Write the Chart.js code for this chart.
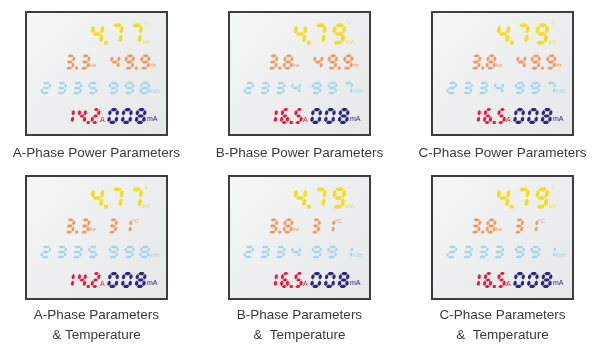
<!DOCTYPE html>
<html><head><meta charset="utf-8">
<script src="https://cdn.jsdelivr.net/npm/chart.js@4/dist/chart.umd.min.js"></script>
<style>html,body{margin:0;padding:0;background:#fff}canvas{display:block}</style>
</head><body>
<canvas id="c" width="603" height="345"></canvas>
<script>
// ---- data ----
const phases = ['A', 'B', 'C'];
const topLabels = ['A-Phase Power Parameters', 'B-Phase Power Parameters', 'C-Phase Power Parameters'];
const bottomLabels = [['A-Phase Parameters', '& Temperature'], ['B-Phase Parameters', '&  Temperature'], ['C-Phase Parameters', '&  Temperature']];
const voltage = ['4.77', '4.79', '4.79'];
const power = ['3.3', '3.8', '3.8'];
const frequency = ['49.9', '49.9', '49.9'];
const temperature = ['31', '31', '31'];
const energyIntTop = ['2335', '2334', '2334'];
const energyFracTop = ['998', '997', '997'];
const energyIntBottom = ['2335', '2334', '2333'];
const energyFracBottom = ['998', '991', '991'];
const current = ['14.2', '16.5', '16.5'];
const leakage = ['008', '008', '008'];
const panelRows = [0, 1]; // 0 = power parameters, 1 = parameters & temperature

// ---- styles ----
const COL = {yellow:'#f3dc22', orange:'#ef9860', blue:'#a2d6ee', red:'#e21d3d', navy:'#28287e', border:'#3d3d3d', label:'#3a3a3a'};
const PW = 141, PH = 123;

const SEGS = {'0':'abcdef','1':'bc','2':'abged','3':'abgcd','4':'fgbc','5':'afgcd','6':'afgedc','7':'abc','8':'abcdefg','9':'abcdfg'};

function drawDigits(ctx, str, right, cy, h, color, o) {
  const w = h * o.w, g = h * o.g, d = h * (o.d || 0.32), t = o.t, sl = 0.12;
  const items = [];
  for (const ch of str) items.push({ch, width: ch === '.' ? d : w});
  const gapAfter = i => (i < items.length - 1 && items[i].ch !== '.' && items[i + 1].ch !== '.') ? g : 0;
  let total = 0;
  items.forEach((it, i) => { total += it.width + gapAfter(i); });
  let x = right - total;
  const top = cy - h / 2;
  ctx.save();
  ctx.fillStyle = color;
  const P = (px, py) => [x + px + (h - py) * sl, top + py];
  const poly = pts => {
    ctx.beginPath();
    pts.forEach((p, k) => { const q = P(p[0], p[1]); if (k) ctx.lineTo(q[0], q[1]); else ctx.moveTo(q[0], q[1]); });
    ctx.closePath(); ctx.fill();
  };
  const hs = (xa, xb, y) => poly([[xa, y], [xa + t / 2, y - t / 2], [xb - t / 2, y - t / 2], [xb, y], [xb - t / 2, y + t / 2], [xa + t / 2, y + t / 2]]);
  const vs = (x0, ya, yb) => poly([[x0, ya], [x0 + t / 2, ya + t / 2], [x0 + t / 2, yb - t / 2], [x0, yb], [x0 - t / 2, yb - t / 2], [x0 - t / 2, ya + t / 2]]);
  items.forEach((it, i) => {
    if (it.ch === '.') {
      const [qx, qy] = P(d * 0.2, h - t);
      ctx.fillRect(qx, qy, t, t);
    } else if (SEGS[it.ch]) {
      const x0 = t / 2, x1 = w - t / 2, y0 = t / 2, y1 = h - t / 2, ym = h / 2, e = 0.5;
      const segs = {
        a: () => hs(x0 + e, x1 - e, y0),
        b: () => vs(x1, y0 + e, ym - e),
        c: () => vs(x1, ym + e, y1 - e),
        d: () => hs(x0 + e, x1 - e, y1),
        e: () => vs(x0, ym + e, y1 - e),
        f: () => vs(x0, y0 + e, ym - e),
        g: () => hs(x0 + e, x1 - e, ym)
      };
      for (const s of SEGS[it.ch]) segs[s]();
    }
    x += it.width + gapAfter(i);
  });
  ctx.restore();
}

function unit(ctx, txt, x, y, size, color) {
  ctx.save();
  ctx.font = size + 'px "Liberation Sans", Arial, sans-serif';
  ctx.fillStyle = color; ctx.textAlign = 'left'; ctx.textBaseline = 'middle';
  ctx.fillText(txt, x, y);
  ctx.restore();
}

const panelPlugin = {
  id: 'panels',
  afterDatasetsDraw(chart) {
    const ctx = chart.ctx;
    const meta = chart.getDatasetMeta(0);
    meta.data.forEach((el, idx) => {
      const raw = chart.data.datasets[0].data[idx];
      const i = raw.phase, row = raw.row;
      const cx = el.x, cy = el.y - 9;
      const L = Math.round(cx - PW / 2), T = Math.round(cy - PH / 2);
      // panel
      ctx.save();
      const gr = ctx.createLinearGradient(L, T, L + PW, T + PH);
      gr.addColorStop(0, '#f5f6f6'); gr.addColorStop(1, '#e5e7e8');
      ctx.fillStyle = gr; ctx.fillRect(L, T, PW, PH);
      ctx.strokeStyle = COL.border; ctx.lineWidth = 2; ctx.strokeRect(L, T, PW, PH);
      ctx.restore();
      // row 1: voltage
      drawDigits(ctx, voltage[i], L + 115, T + 22, 21, COL.yellow, {w: 0.62, g: 0.3, t: 3.7, d: 0.3});
      unit(ctx, 'kV', L + 117, T + 30, 6, COL.yellow);
      unit(ctx, '°', L + 119, T + 14, 7, COL.yellow);
      // row 2
      drawDigits(ctx, power[i], L + 63, T + 50, 15, COL.orange, {w: 0.65, g: 0.3, t: 2.8, d: 0.36});
      unit(ctx, 'kw', L + 64, T + 54, 5, COL.orange);
      if (row === 0) {
        drawDigits(ctx, frequency[i], L + 123, T + 50, 15, COL.orange, {w: 0.66, g: 0.3, t: 2.8, d: 0.38});
        unit(ctx, 'Hz', L + 124, T + 54, 5, COL.orange);
      } else {
        drawDigits(ctx, temperature[i], L + 105, T + 50, 15, COL.orange, {w: 0.62, g: 0.35, t: 2.8});
        unit(ctx, '°C', L + 106, T + 45, 6, COL.orange);
      }
      // row 3: energy
      const ei = row === 0 ? energyIntTop[i] : energyIntBottom[i];
      const ef = row === 0 ? energyFracTop[i] : energyFracBottom[i];
      drawDigits(ctx, ei, L + 71, T + 76, 12.5, COL.blue, {w: 0.8, g: 0.45, t: 2.4});
      drawDigits(ctx, ef, L + 123, T + 76, 12.5, COL.blue, {w: 0.8, g: 0.45, t: 2.4});
      unit(ctx, 'kWh', L + 124, T + 80, 5, COL.blue);
      // row 4
      drawDigits(ctx, current[i], L + 73, T + 104, 16, COL.red, {w: 0.55, g: 0.2, t: 3, d: 0.3});
      unit(ctx, 'A', L + 74, T + 108, 7, COL.red);
      drawDigits(ctx, leakage[i], L + 119, T + 104, 16, COL.navy, {w: 0.66, g: 0.2, t: 3.2});
      unit(ctx, 'mA', L + 121, T + 107, 7, COL.navy);
      // labels
      ctx.save();
      ctx.font = '13.5px "Liberation Sans", Arial, sans-serif';
      ctx.fillStyle = COL.label; ctx.textAlign = 'center'; ctx.textBaseline = 'middle';
      if (row === 0) {
        ctx.fillText(topLabels[i], cx, T + PH + 18);
      } else {
        ctx.fillText(bottomLabels[i][0], cx, T + PH + 16);
        ctx.fillText(bottomLabels[i][1], cx, T + PH + 36);
      }
      ctx.restore();
    });
  }
};

const points = [];
panelRows.forEach(r => phases.forEach((p, i) => points.push({x: i + 0.5, y: r + 0.5, phase: i, row: r})));

new Chart(document.getElementById('c'), {
  type: 'scatter',
  data: {datasets: [{data: points, pointRadius: 0, pointHoverRadius: 0}]},
  options: {
    responsive: false, animation: false, events: [],
    layout: {padding: {top: 0, bottom: 16, left: 0, right: 0}},
    scales: {
      x: {min: 0.025, max: 2.995, display: false},
      y: {min: 0, max: 2, reverse: true, display: false}
    },
    plugins: {legend: {display: false}, tooltip: {enabled: false}}
  },
  plugins: [panelPlugin]
});
</script>
</body></html>
